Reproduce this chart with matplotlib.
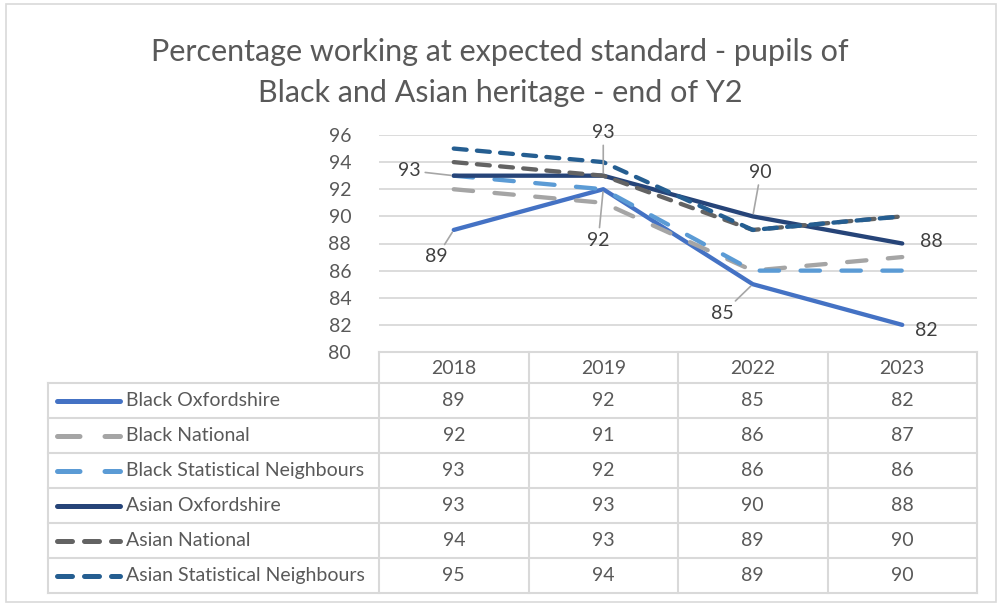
import matplotlib.pyplot as plt
from matplotlib.patches import Rectangle

# data
years = ["2018", "2019", "2022", "2023"]
series_names = ["Black Oxfordshire", "Black National", "Black Statistical Neighbours",
                "Asian Oxfordshire", "Asian National", "Asian Statistical Neighbours"]
black_oxon = [89, 92, 85, 82]
black_national = [92, 91, 86, 87]
black_sn = [93, 92, 86, 86]
asian_oxon = [93, 93, 90, 88]
asian_national = [94, 93, 89, 90]
asian_sn = [95, 94, 89, 90]

series_values = [black_oxon, black_national, black_sn, asian_oxon, asian_national, asian_sn]
series_colors = ["#4472C4", "#A5A5A5", "#5B9BD5", "#264478", "#636363", "#255E91"]
long_dash = (0, (4.5, 5.0))
short_dash = (0, (3.0, 2.4))
series_styles = ["-", long_dash, long_dash, "-", short_dash, short_dash]

TEXT = "#595959"
GRID = "#D9D9D9"
LW = 3.1
FS = 14

plt.rcParams["font.family"] = ["Lato", "DejaVu Sans"]

W, H = 1000, 604
fig = plt.figure(figsize=(W / 100, H / 100), dpi=100)

# outer chart border
fig.patches.append(Rectangle((6 / W, 2 / H), 990 / W, 598 / H, transform=fig.transFigure,
                             fill=False, edgecolor=GRID, lw=1.2))

fig.text(0.5, 1 - 52 / H, "Percentage working at expected standard - pupils of",
         ha="center", va="center", fontsize=22, color=TEXT)
fig.text(0.5, 1 - 93 / H, "Black and Asian heritage - end of Y2",
         ha="center", va="center", fontsize=22, color=TEXT)

# line chart
left, right, top, bottom = 379, 977, 135, 352
ax = fig.add_axes([left / W, 1 - bottom / H, (right - left) / W, (bottom - top) / H])
x = list(range(len(years)))
for vals, c, ls, name in zip(series_values, series_colors, series_styles, series_names):
    ax.plot(x, vals, color=c, linestyle=ls, lw=LW, dash_capstyle="round",
            solid_capstyle="round", label=name, zorder=3)
ax.set_xlim(-0.5, 3.5)
ax.set_ylim(80, 96)
ax.set_yticks(range(80, 97, 2))
ax.set_xticks([])
ax.grid(axis="y", color=GRID, lw=1.3)
ax.set_axisbelow(True)
for s in ax.spines.values():
    s.set_visible(False)
ax.tick_params(axis="y", length=0, pad=20, labelsize=FS, labelcolor=TEXT)

# data labels with leader lines (pixel offsets)
label_offsets = {
    ("asian", 0): (-44, 5), ("black", 0): (-17, -27),
    ("black", 1): (-5, -51), ("asian", 1): (0, 43),
    ("asian", 2): (8, 44), ("black", 2): (-30, -29),
    ("asian", 3): (29, 2), ("black", 3): (24, -6),
}
for key, vals in [("black", black_oxon), ("asian", asian_oxon)]:
    for i, v in enumerate(vals):
        dx, dy = label_offsets[(key, i)]
        leader = abs(dx) + abs(dy) > 32
        ax.annotate(str(v), (i, v), xytext=(dx, dy), textcoords="offset pixels",
                    ha="center", va="center", fontsize=FS, color="#404040", zorder=5,
                    arrowprops=dict(arrowstyle="-", color="#A6A6A6", lw=1.2,
                                    shrinkA=1, shrinkB=2) if leader else None)

# data table
tleft, tbottom = 48, 593
col_w = (right - left) / 4
row_h = [31] + [35] * 6
tab = fig.add_axes([tleft / W, 1 - tbottom / H, (right - tleft) / W, (tbottom - bottom) / H])
x0 = -0.5 - (left - tleft) / col_w
tab.set_xlim(x0, 3.5)
tab.set_ylim(sum(row_h), 0)
tab.axis("off")

edges = [0]
for h in row_h:
    edges.append(edges[-1] + h)
# horizontal lines
tab.plot([-0.5, 3.5], [0, 0], color=GRID, lw=1.5, clip_on=False)
for e in edges[1:]:
    tab.plot([x0, 3.5], [e, e], color=GRID, lw=1.5, clip_on=False)
# vertical lines
tab.plot([x0, x0], [edges[1], edges[-1]], color=GRID, lw=1.5, clip_on=False)
for j in range(5):
    tab.plot([j - 0.5, j - 0.5], [0, edges[-1]], color=GRID, lw=1.5, clip_on=False)

for j, yr in enumerate(years):
    tab.text(j, row_h[0] / 2 + 1, yr, ha="center", va="center", fontsize=FS, color=TEXT)

px = 1 / col_w
for r, (name, vals, c, ls) in enumerate(zip(series_names, series_values, series_colors, series_styles)):
    yc = (edges[r + 1] + edges[r + 2]) / 2
    tab.plot([x0 + 9 * px, x0 + 72 * px], [yc, yc], color=c, linestyle=ls, lw=LW + 0.5,
             dash_capstyle="round", solid_capstyle="round", clip_on=False)
    tab.text(x0 + 78 * px, yc, name, ha="left", va="center", fontsize=FS, color=TEXT)
    for j, v in enumerate(vals):
        tab.text(j, yc, str(v), ha="center", va="center", fontsize=FS, color=TEXT)

fig.savefig("out.png", dpi=100)
